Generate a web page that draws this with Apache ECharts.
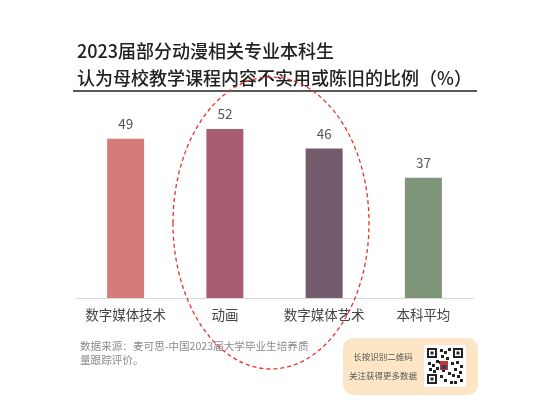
<!DOCTYPE html>
<html>
<head>
<meta charset="utf-8">
<script src="https://cdn.jsdelivr.net/npm/echarts@6/dist/echarts.min.js"></script>
<style>
  html, body { margin: 0; padding: 0; background: #fff; }
  #chart { width: 553px; height: 407px; }
</style>
</head>
<body>
<div id="chart"></div>
<script>
// data
const categories = ['数字媒体技术', '动画', '数字媒体艺术', '本科平均']
const values = [49, 52, 46, 37]
const barColors = ['#d47c79', '#a95d72', '#745c6d', '#7e957a']

const font = '"Noto Sans CJK SC", "Noto Sans", sans-serif'

let myChart = echarts.init(document.getElementById('chart'))

// simple QR-like block for the badge
function qrBlock(x, y, s) {
  let items = [{ type: 'rect', shape: { x: x, y: y, width: s, height: s }, style: { fill: '#fff' } }]
  const finder = (fx, fy) => [
    { type: 'rect', shape: { x: fx, y: fy, width: 10, height: 10 }, style: { fill: '#222' } },
    { type: 'rect', shape: { x: fx + 2, y: fy + 2, width: 6, height: 6 }, style: { fill: '#fff' } },
    { type: 'rect', shape: { x: fx + 3.5, y: fy + 3.5, width: 3, height: 3 }, style: { fill: '#222' } }
  ]
  items = items.concat(finder(x + 3, y + 3), finder(x + s - 13, y + 3), finder(x + 3, y + s - 13))
  const dots = [
    [16, 4], [20, 6], [24, 3], [17, 10], [22, 12], [15, 16], [4, 17], [8, 19], [12, 15],
    [27, 17], [32, 16], [36, 20], [30, 23], [24, 27], [18, 24], [16, 30], [20, 34], [26, 36],
    [33, 30], [36, 34], [30, 36], [9, 25], [5, 23], [12, 22], [35, 26], [28, 29]
  ]
  dots.forEach(d => {
    items.push({ type: 'rect', shape: { x: x + d[0], y: y + d[1], width: 3, height: 3 }, style: { fill: '#222' } })
  })
  items.push({ type: 'rect', shape: { x: x + 16, y: y + 16, width: 8, height: 9 }, style: { fill: '#c0392b' } })
  items.push({ type: 'rect', shape: { x: x + 17.5, y: y + 20, width: 5, height: 4 }, style: { fill: '#2c3e80' } })
  return items
}

myChart.setOption({
  animation: false,
  textStyle: { fontFamily: font },
  title: {
    text: '2023届部分动漫相关专业本科生\n认为母校教学课程内容不实用或陈旧的比例（%）',
    left: 72,
    top: 33,
    textStyle: {
      fontSize: 18,
      fontWeight: 500,
      color: '#222',
      lineHeight: 27,
      fontFamily: font
    }
  },
  grid: {
    left: 76,
    right: 80,
    top: 103,
    bottom: 109
  },
  xAxis: {
    type: 'category',
    data: categories,
    axisLine: { lineStyle: { color: '#d9d9d9' } },
    axisTick: { show: false },
    axisLabel: { fontSize: 13.5, color: '#444', margin: 10, interval: 0 }
  },
  yAxis: {
    type: 'value',
    min: 0,
    max: 60,
    show: false,
    splitLine: { show: false }
  },
  series: [
    {
      type: 'bar',
      barWidth: 37,
      data: values.map((v, i) => ({ value: v, itemStyle: { color: barColors[i] } })),
      label: {
        show: true,
        position: 'top',
        distance: 8,
        fontSize: 13.5,
        color: '#555'
      }
    }
  ],
  graphic: [
    {
      type: 'line',
      shape: { x1: 73, y1: 91, x2: 477, y2: 91 },
      style: { stroke: '#222', lineWidth: 1.5 }
    },
    {
      type: 'ellipse',
      shape: { cx: 271, cy: 223, rx: 98, ry: 146 },
      style: { fill: 'none', stroke: '#e8322a', lineWidth: 1.3, lineDash: [4, 3] },
      z: 100
    },
    {
      type: 'text',
      left: 80,
      top: 339,
      style: {
        text: '数据来源：麦可思-中国2023届大学毕业生培养质\n量跟踪评价。',
        fontSize: 10.6,
        lineHeight: 14,
        fill: '#8a8a8a',
        fontFamily: font
      }
    },
    {
      type: 'rect',
      shape: { x: 343, y: 338, width: 135, height: 57, r: 10 },
      style: { fill: '#fce6c6' }
    },
    {
      type: 'text',
      x: 383,
      y: 357,
      style: {
        text: '长按识别二维码',
        fontSize: 8.5,
        fill: '#555',
        align: 'center',
        verticalAlign: 'middle',
        fontFamily: font
      }
    },
    {
      type: 'text',
      x: 383,
      y: 376,
      style: {
        text: '关注获得更多数据',
        fontSize: 8.5,
        fill: '#555',
        align: 'center',
        verticalAlign: 'middle',
        fontFamily: font
      }
    },
    {
      type: 'group',
      children: qrBlock(424, 345, 42)
    }
  ]
})
</script>
</body>
</html>
